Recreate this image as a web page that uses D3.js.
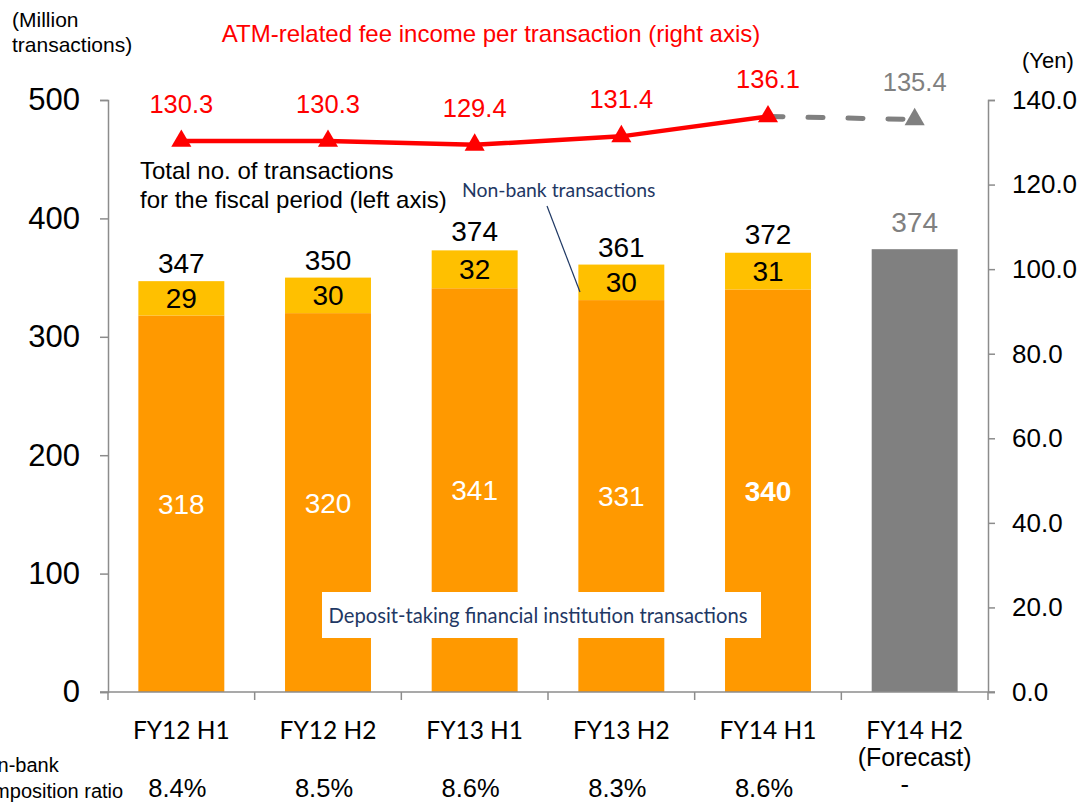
<!DOCTYPE html>
<html><head><meta charset="utf-8">
<script src="https://cdn.jsdelivr.net/npm/d3@7"></script>
<style>
body{margin:0;background:#fff;}
svg{display:block;}
.arial{font-family:Arial,"Liberation Sans",sans-serif;}
.cal{font-family:Lato,"Open Sans",sans-serif;}
</style></head>
<body>
<svg id="c" width="1080" height="802"></svg>
<script>
const categories = ["FY12 H1","FY12 H2","FY13 H1","FY13 H2","FY14 H1","FY14 H2"];
const depositTx = [318,320,341,331,340];
const nonBankTx = [29,30,32,30,31];
const totalTx = [347,350,374,361,372];
const forecastTotal = 374;
const feePerTx = [130.3,130.3,129.4,131.4,136.1];
const feeForecast = 135.4;
const nonBankRatio = ["8.4%","8.5%","8.6%","8.3%","8.6%","-"];
const leftTicks = [0,100,200,300,400,500];
const rightTicks = [0,20,40,60,80,100,120,140];

const svg = d3.select("#c");
const ORANGE="#FF9900", YELLOW="#FFC000", GRAY="#808080", RED="#FF0000", NAVY="#1F3864", AX="#8C8C8C";
const L=108, R=988, T=100, B=692;

const x = d3.scaleBand().domain(categories).range([L,R]).paddingInner(0.414).paddingOuter(0.207);
const yL = d3.scaleLinear().domain([0,500]).range([B,T]);
const yR = d3.scaleLinear().domain([0,140]).range([B,T]);
const cx = c => x(c)+x.bandwidth()/2;

// bars
const g = svg.append("g");
depositTx.forEach((v,i)=>{
  const c=categories[i];
  g.append("rect").attr("x",x(c)).attr("width",x.bandwidth())
    .attr("y",yL(v)).attr("height",yL(0)-yL(v)).attr("fill",ORANGE);
  g.append("rect").attr("x",x(c)).attr("width",x.bandwidth())
    .attr("y",yL(v+nonBankTx[i])).attr("height",yL(v)-yL(v+nonBankTx[i])).attr("fill",YELLOW);
});
g.append("rect").attr("x",x(categories[5])).attr("width",x.bandwidth())
  .attr("y",yL(forecastTotal)).attr("height",yL(0)-yL(forecastTotal)).attr("fill",GRAY);

// deposit label box
svg.append("rect").attr("x",322).attr("y",592).attr("width",439).attr("height",46).attr("fill","#fff");
svg.append("text").attr("class","cal").attr("x",538).attr("y",623).attr("text-anchor","middle")
  .attr("font-size",20.2).attr("fill",NAVY).text("Deposit-taking financial institution transactions");

// axes
const axL = svg.append("g").attr("transform",`translate(${L},0)`)
  .call(d3.axisLeft(yL).tickValues(leftTicks).tickSize(8).tickPadding(20).tickFormat(d3.format("d")));
const axR = svg.append("g").attr("transform",`translate(${R},0)`)
  .call(d3.axisRight(yR).tickValues(rightTicks).tickSize(7).tickPadding(17).tickFormat(d3.format(".1f")));
[axL,axR].forEach(a=>{
  a.select(".domain").attr("stroke",AX).attr("stroke-width",1.5);
  a.selectAll(".tick line").attr("stroke",AX).attr("stroke-width",1.5);
  a.selectAll("text").attr("font-family","Arial, 'Liberation Sans', sans-serif").attr("fill","#000");
});
axL.selectAll("text").attr("font-size",31);
axR.selectAll("text").attr("font-size",26);

// bottom axis
const bx = svg.append("g");
bx.append("line").attr("x1",L-8).attr("x2",R+7).attr("y1",B).attr("y2",B).attr("stroke",AX).attr("stroke-width",1.5);
d3.range(categories.length+1).forEach(i=>{
  const xx = L + i*x.step();
  bx.append("line").attr("x1",xx).attr("x2",xx).attr("y1",B).attr("y2",B+8).attr("stroke",AX).attr("stroke-width",1.5);
});
categories.forEach((c,i)=>{
  bx.append("text").attr("class","cal").attr("x",cx(c)).attr("y",739).attr("text-anchor","middle")
    .attr("font-size",24.5).attr("fill","#000").text(c);
});
bx.append("text").attr("class","arial").attr("x",cx(categories[5])).attr("y",766).attr("text-anchor","middle")
  .attr("font-size",25).attr("fill","#000").text("(Forecast)");
nonBankRatio.forEach((r,i)=>{
  const isDash = r==="-";
  bx.append("text").attr("class","arial").attr("x",cx(categories[i])-(isDash?10:4)).attr("y",isDash?793:797).attr("text-anchor","middle")
    .attr("font-size",25.5).attr("fill","#000").text(r);
});
svg.append("text").attr("class","arial").attr("x",-28).attr("y",772).attr("font-size",20).text("Non-bank");
svg.append("text").attr("class","arial").attr("x",-28).attr("y",798).attr("font-size",20).text("composition ratio");

// bar labels
depositTx.forEach((v,i)=>{
  const c=categories[i];
  svg.append("text").attr("class","arial").attr("x",cx(c)).attr("y",yL(v/2)+10).attr("text-anchor","middle")
    .attr("font-size",28).attr("fill","#fff").attr("font-weight",i===4?"bold":"normal").text(v);
  svg.append("text").attr("class","arial").attr("x",cx(c)).attr("y",yL(v+nonBankTx[i]/2)+10).attr("text-anchor","middle")
    .attr("font-size",28).attr("fill","#000").text(nonBankTx[i]);
  svg.append("text").attr("class","arial").attr("x",cx(c)).attr("y",yL(totalTx[i])-8).attr("text-anchor","middle")
    .attr("font-size",28).attr("fill","#000").text(totalTx[i]);
});
svg.append("text").attr("class","arial").attr("x",cx(categories[5])).attr("y",yL(forecastTotal)-17).attr("text-anchor","middle")
  .attr("font-size",28).attr("fill",GRAY).text(forecastTotal);

// line
const line = d3.line().x((d,i)=>cx(categories[i])).y(d=>yR(d));
svg.append("path").datum(feePerTx).attr("d",line).attr("fill","none").attr("stroke",RED).attr("stroke-width",4.5);
svg.append("line").attr("x1",cx(categories[4])).attr("y1",yR(feePerTx[4]))
  .attr("x2",cx(categories[5])).attr("y2",yR(feeForecast))
  .attr("stroke",GRAY).attr("stroke-width",5).attr("stroke-dasharray","15,25").attr("stroke-linecap","round");
const tri = d3.symbol().type(d3.symbolTriangle).size(175);
feePerTx.forEach((v,i)=>{
  svg.append("path").attr("d",tri).attr("transform",`translate(${cx(categories[i])},${yR(v)})`).attr("fill",RED);
  svg.append("text").attr("class","arial").attr("x",cx(categories[i])).attr("y",yR(v)-28).attr("text-anchor","middle")
    .attr("font-size",25.5).attr("fill",RED).text(d3.format(".1f")(v));
});
svg.append("path").attr("d",tri).attr("transform",`translate(${cx(categories[5])},${yR(feeForecast)})`).attr("fill",GRAY);
svg.append("text").attr("class","arial").attr("x",cx(categories[5])).attr("y",yR(feeForecast)-28).attr("text-anchor","middle")
  .attr("font-size",25.5).attr("fill",GRAY).text(d3.format(".1f")(feeForecast));

// titles & annotations
svg.append("text").attr("class","arial").attr("x",491).attr("y",42).attr("text-anchor","middle")
  .attr("font-size",24).attr("fill",RED).text("ATM-related fee income per transaction (right axis)");
svg.append("text").attr("class","arial").attr("x",12).attr("y",27).attr("font-size",21).text("(Million");
svg.append("text").attr("class","arial").attr("x",12).attr("y",52).attr("font-size",21).text("transactions)");
svg.append("text").attr("class","arial").attr("x",1022).attr("y",68).attr("font-size",22).text("(Yen)");
svg.append("text").attr("class","arial").attr("x",140).attr("y",179).attr("font-size",24).text("Total no. of transactions");
svg.append("text").attr("class","arial").attr("x",140).attr("y",208).attr("font-size",24).text("for the fiscal period (left axis)");
svg.append("text").attr("class","cal").attr("x",462).attr("y",197).attr("font-size",19.4).attr("fill",NAVY).text("Non-bank transactions");
svg.append("line").attr("x1",547).attr("y1",206).attr("x2",580).attr("y2",292).attr("stroke",NAVY).attr("stroke-width",1.2);
</script>
</body></html>
